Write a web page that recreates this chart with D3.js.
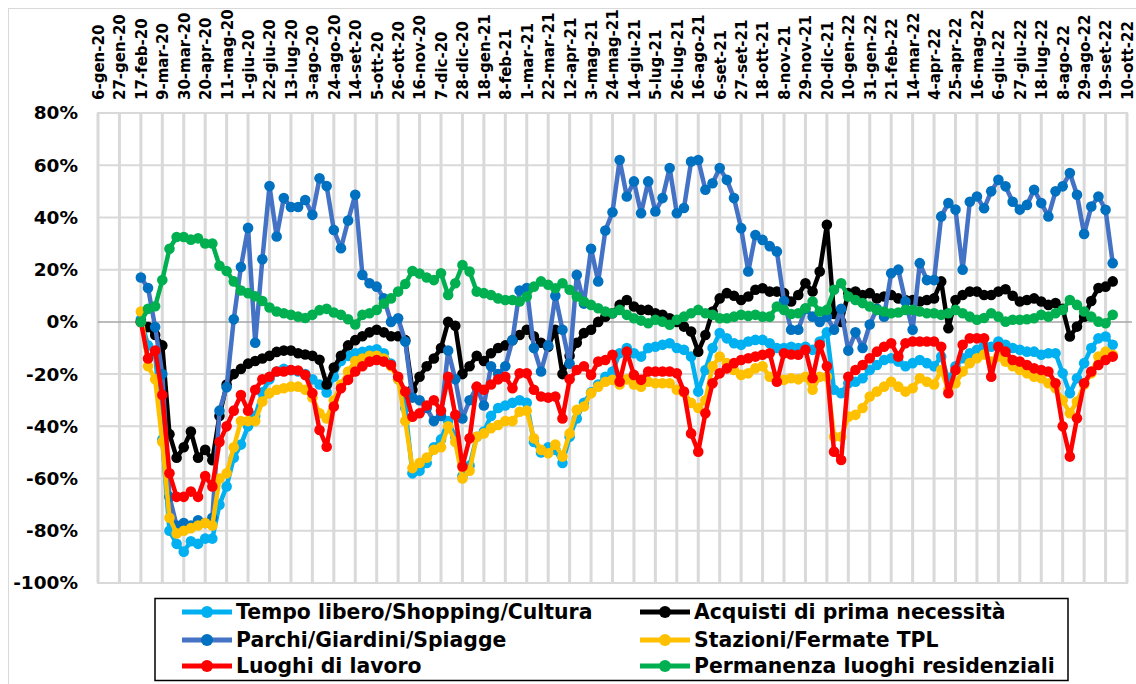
<!DOCTYPE html>
<html>
<head>
<meta charset="utf-8">
<script src="https://cdn.jsdelivr.net/npm/d3@7"></script>
<style>
  html, body { margin: 0; padding: 0; background: #fff; }
  svg { display: block; }
</style>
</head>
<body>
<svg id="chart" width="1136" height="684"></svg>
<script>
// Weekly mobility changes vs. baseline (%), one value per week starting Monday 17 Feb 2020
const firstWeek = "2020-02-17";

const tempoLibero = [
  1, -9, -12, -45, -80, -85, -88, -84, -85, -83,
  -83, -70, -63, -52, -47, -40, -36, -27, -22, -19,
  -18, -18.5, -19, -20, -22, -24, -27, -21, -15, -13,
  -12, -11.5, -11, -10.5, -12, -16, -22, -33, -58, -57,
  -54, -48, -45, -38, -44, -59, -55, -44, -42, -36,
  -33, -32, -31, -30, -31, -46, -50, -48, -49, -54,
  -44, -37, -31, -27, -24, -21, -19, -12, -10, -12,
  -13.3, -10, -9.5, -8.8, -8.2, -10, -10.7, -13.3, -26.7, -18.4,
  -10, -4.3, -6.3, -8.2, -8.8, -7.5, -6.9, -6.9, -8.2, -10,
  -10, -9.5, -10, -9.5, -10.7, -7.5, -4, -26, -27.3, -23.5,
  -22.9, -21.6, -18.4, -16.5, -14.6, -13.9, -15.2, -17, -15.8, -14.6,
  -15.8, -17, -13.3, -22, -17, -13.9, -12, -10.7, -9, -9.5,
  -7.5, -8.8, -10, -10.7, -11.4, -11.4, -12.6, -12, -12, -19.7,
  -27.3, -21.6, -15.8, -10, -6.3, -5.6, -8.8
];

const acquisti = [
  0, -2, -5, -9, -43, -52, -48, -42, -52, -49,
  -53, -36, -24, -20, -18, -16, -15, -14, -13, -11.5,
  -11, -11, -12, -12.5, -13, -14.5, -24, -17.5, -13, -9,
  -7, -5.5, -4, -3, -4, -5.5, -5.5, -7, -26, -21,
  -17, -14, -10, 0, -1.5, -20, -17, -13, -15, -12,
  -10, -9, -7, -5, -3, -5.5, -8, -9.5, -3, -20,
  -13, -8, -4.3, -3, 0, 2, 3.3, 6.5, 8.4, 5.9,
  4.6, 4.6, 3.3, 2.7, 1.4, 0, -1.8, -3.7, -11.4, -5,
  4, 9, 11, 10, 8.4, 9.7, 12.3, 12.9, 11.6, 11.6,
  11, 7.8, 10.3, 14.8, 11.6, 19.3, 37.2, 3, 0, 11,
  11.6, 10.3, 11, 9, 9.7, 10.3, 9, 8.4, 8.4, 7.8,
  8.4, 9, 15.5, -2.4, 8.4, 10.3, 11.6, 11.6, 10.3, 10.3,
  11.6, 12.5, 10, 7.8, 8.4, 9, 7.8, 6.5, 7.2, 5,
  -5.6, -1.8, 2, 8, 13, 13.5, 15.5
];

const parchi = [
  17, 13, -2, -20, -67, -78, -77, -78, -76, -77,
  -75, -34, -25, 1, 21, 36, -8, 24, 52, 32.7,
  47.4, 44, 44, 46.7, 41, 55, 52, 35.2, 28.2, 38.8,
  48.7, 18, 14.8, 13.5, 9, 0, 1.4, -7.5, -29, -30,
  -33, -38, -36, -11, -22, -37, -30, -25, -32, -17,
  -20, -17, -7, 12, 13, -10, -19, -9, 10, -3,
  -16, 18, 7, 28, 15.5, 35, 42, 62, 48, 53.8,
  41.6, 53.8, 42.3, 47.4, 58.9, 41.6, 43.6, 61.4, 62, 50.6,
  53.1, 58.9, 54.4, 47.4, 35.9, 19.3, 33.3, 31.4, 29, 27,
  8, -3, -3, 5, 2, 0, 2, -3, 5, -11,
  -4, -10, -1, 5, 2, 18.6, 20, 7.8, -3, 22.5,
  16, 16, 40.4, 45.5, 43, 20, 46, 48, 43.5, 50,
  54.4, 51.9, 46, 43, 44.8, 50.6, 45.5, 40.4, 50, 51.9,
  57, 48.7, 33.7, 44.2, 48, 42.9, 22.5
];

const stazioni = [
  4, -17, -22, -46, -75, -81, -80, -79, -78, -77,
  -78, -60, -58, -48, -38, -38, -38, -30.5, -27.3, -26,
  -25.4, -24.8, -24.8, -26, -29, -35, -37, -30, -24, -19,
  -15, -14, -13, -13, -14, -17, -22, -38, -56, -54,
  -52, -49, -48, -40, -46, -60, -57, -44, -42.7, -40.7,
  -39.5, -38, -38, -34.4, -34, -44.6, -49, -50.3, -47, -51.6,
  -42.7, -33.7, -32.4, -27.3, -24.8, -22.9, -22.2, -24, -22, -24,
  -24.8, -22.9, -23.5, -23.5, -23.5, -26, -27, -31, -33, -30,
  -17, -13.3, -15.8, -18.4, -20.3, -19.7, -17.8, -17, -21, -22,
  -22.2, -21.6, -22, -21, -26, -21, -21, -44, -44, -36.3,
  -35.6, -33, -28.6, -26.7, -24.8, -22.9, -24.8, -26.7, -25.4, -21.6,
  -22.9, -24, -18.4, -26, -23.5, -19, -15.8, -13.9, -12.5, -15.2,
  -13.3, -15.2, -17, -18.4, -19.7, -21, -21.6, -23.5, -25.4, -30,
  -35, -30.5, -24, -19.7, -13.3, -11.4, -12.6
];

const lavoro = [
  0, -14, -11, -28, -58, -67, -67, -65, -67, -59,
  -63, -46, -40, -34, -28, -34, -26, -22, -21, -19,
  -19, -18.4, -18.6, -20.3, -27.3, -41.4, -47.8, -32.4, -25.4, -22.2,
  -19, -17, -15.2, -14.6, -15.2, -16.5, -21, -26.7, -36.3, -35,
  -32, -30, -34, -21, -35.6, -55.4, -44.6, -24.8, -26, -24,
  -22, -21, -25.4, -19.7, -19.7, -26, -28.6, -29, -28.6, -37,
  -22, -18.4, -17, -20.3, -15.2, -14.6, -12.6, -22.9, -11.4, -20.3,
  -22.2, -19, -19, -19, -19, -19.7, -26.7, -42.7, -49.7, -35,
  -23.5, -19.7, -17.8, -15.8, -14.6, -13.9, -13.3, -12.6, -12, -22.9,
  -12, -12.5, -12.6, -10.7, -21.6, -8.8, -17, -49.7, -52.9, -21,
  -18.4, -16.5, -13.9, -11.4, -9.5, -8.2, -13.3, -8.2, -7.5, -7.5,
  -7.5, -7.5, -9.5, -27.3, -18.4, -8.8, -6.3, -6.3, -6.3, -21,
  -9.5, -11.4, -14.6, -15.2, -16.5, -17.8, -18.4, -19, -23.5, -40,
  -51.6, -36.9, -23.5, -19, -16.5, -14.6, -13.3
];

const residenziali = [
  0, 5, 6, 16, 28, 32.5, 32.5, 31.5, 32, 30,
  30, 21.5, 19.5, 15.5, 12, 11, 9.8, 8, 5.5, 4,
  3.3, 2.7, 2, 1.5, 2.7, 4.5, 5, 3.6, 2.7, 1,
  -1, 2.7, 3.3, 4.6, 7, 9, 11.6, 14.5, 19.5, 18.5,
  17, 16, 18.6, 10.3, 14.8, 21.8, 19.3, 11.6, 11, 10.3,
  9, 8.4, 8.4, 7.8, 9.7, 13.5, 15.5, 14.2, 12.9, 14.8,
  12.3, 9.7, 7.8, 6.5, 5.2, 4, 3.3, 4.6, 2.7, 1.4,
  0.5, -0.5, 0.8, 0.1, -1.1, 0.8, 2, 3.3, 4.6, 3.3,
  2.7, 1.4, 1.4, 2, 2.7, 2.3, 2.7, 2, 2, 5.9,
  4.6, 3, 3.3, 5.2, 7.8, 4, 4.6, 12.3, 14.8, 9.7,
  8.4, 7.2, 5.9, 4.6, 4, 3.3, 3.6, 4.6, 4.6, 4,
  3.3, 3.3, 2.7, 3.3, 4.6, 3.3, 2, 0.8, 1.5, 3.3,
  2, 0.1, 0.8, 0.8, 1, 1.4, 2.7, 2, 3.3, 4.6,
  8.4, 6.5, 4, 2, 0.1, -0.5, 2.7
];

// Date axis labels, one every three weeks from 6 Jan 2020
const axisStart = "2020-01-06";
const xTickLabels = [
  "6-gen-20", "27-gen-20", "17-feb-20", "9-mar-20", "30-mar-20", "20-apr-20", "11-mag-20",
  "1-giu-20", "22-giu-20", "13-lug-20", "3-ago-20", "24-ago-20", "14-set-20", "5-ott-20",
  "26-ott-20", "16-nov-20", "7-dic-20", "28-dic-20", "18-gen-21", "8-feb-21", "1-mar-21",
  "22-mar-21", "12-apr-21", "3-mag-21", "24-mag-21", "14-giu-21", "5-lug-21", "26-lug-21",
  "16-ago-21", "6-set-21", "27-set-21", "18-ott-21", "8-nov-21", "29-nov-21", "20-dic-21",
  "10-gen-22", "31-gen-22", "21-feb-22", "14-mar-22", "4-apr-22", "25-apr-22", "16-mag-22",
  "6-giu-22", "27-giu-22", "18-lug-22", "8-ago-22", "29-ago-22", "19-set-22", "10-ott-22"
];
const yTicks = [80, 60, 40, 20, 0, -20, -40, -60, -80, -100];

const seriesNames = [
  "Tempo libero/Shopping/Cultura", "Acquisti di prima necessità", "Parchi/Giardini/Spiagge",
  "Stazioni/Fermate TPL", "Luoghi di lavoro", "Permanenza luoghi residenziali"
];

// ---- drawing ----
const FONT = "'DejaVu Sans', Verdana, sans-serif";
const parseDay = d3.utcParse("%Y-%m-%d");
const t0 = parseDay(axisStart);
const tickDates = xTickLabels.map((_, k) => d3.utcDay.offset(t0, 21 * k));
const w0 = parseDay(firstWeek);
const weekDates = tempoLibero.map((_, i) => d3.utcDay.offset(w0, 7 * i));

const series = [
  { name: seriesNames[0], values: tempoLibero, line: "#00B0F0", dot: "#00B0F0" },
  { name: seriesNames[1], values: acquisti, line: "#000000", dot: "#000000" },
  { name: seriesNames[2], values: parchi, line: "#4472C4", dot: "#0070C0" },
  { name: seriesNames[3], values: stazioni, line: "#FFC000", dot: "#FFC000" },
  { name: seriesNames[4], values: lavoro, line: "#FF0000", dot: "#FF0000" },
  { name: seriesNames[5], values: residenziali, line: "#00B050", dot: "#00B050" }
];

const plot = { left: 98, right: 1127, top: 113, bottom: 583 };
const x = d3.scaleUtc()
  .domain([tickDates[0], tickDates[tickDates.length - 1]])
  .range([plot.left, plot.right]);
const y = d3.scaleLinear().domain([-100, 80]).range([plot.bottom, plot.top]);

const svg = d3.select("#chart");
svg.append("rect").attr("width", 1136).attr("height", 684).attr("fill", "#fff");
// chart area frame
svg.append("rect")
  .attr("x", 8.5).attr("y", 8.5).attr("width", 1140).attr("height", 700)
  .attr("fill", "none").attr("stroke", "#D9D9D9").attr("stroke-width", 1);

const grid = svg.append("g");
// horizontal gridlines
grid.selectAll("line.h").data(yTicks.filter(v => v !== 0)).join("line")
  .attr("x1", plot.left).attr("x2", plot.right)
  .attr("y1", d => y(d)).attr("y2", d => y(d))
  .attr("stroke", "#D9D9D9").attr("stroke-width", 2);
// vertical gridlines
grid.selectAll("line.v").data(tickDates).join("line")
  .attr("x1", d => x(d)).attr("x2", d => x(d))
  .attr("y1", plot.top).attr("y2", plot.bottom)
  .attr("stroke", "#D9D9D9").attr("stroke-width", 3);
// plot frame
grid.append("rect")
  .attr("x", plot.left).attr("y", plot.top)
  .attr("width", plot.right - plot.left).attr("height", plot.bottom - plot.top)
  .attr("fill", "none").attr("stroke", "#D9D9D9").attr("stroke-width", 2);
// zero axis line
grid.append("line")
  .attr("x1", plot.left).attr("x2", plot.right + 5)
  .attr("y1", y(0)).attr("y2", y(0))
  .attr("stroke", "#A6A6A6").attr("stroke-width", 1.5);

// y axis labels
const yAxis = d3.axisLeft(y).tickValues(yTicks).tickFormat(d => d + "%").tickSize(0).tickPadding(0);
const gy = svg.append("g").attr("transform", "translate(78,0)").call(yAxis);
gy.select(".domain").remove();
gy.selectAll("text")
  .attr("font-family", FONT)
  .attr("font-weight", "bold").attr("font-size", 18.5).attr("fill", "#000");

// x axis labels (rotated, above the plot)
const xAxis = d3.axisTop(x).tickValues(tickDates).tickFormat((d, k) => xTickLabels[k]).tickSize(0);
const gx = svg.append("g").attr("transform", "translate(0,100)").call(xAxis);
gx.select(".domain").remove();
gx.selectAll("text")
  .attr("font-family", FONT)
  .attr("font-weight", "bold").attr("font-size", 15).attr("fill", "#000")
  .attr("transform", "rotate(-90)")
  .attr("text-anchor", "start")
  .attr("x", 0).attr("y", 0).attr("dy", "0.36em");

// series
const lineGen = d3.line()
  .x((d, i) => x(weekDates[i]))
  .y(d => y(d));

series.forEach(s => {
  const g = svg.append("g");
  g.append("path")
    .datum(s.values)
    .attr("d", lineGen)
    .attr("fill", "none")
    .attr("stroke", s.line)
    .attr("stroke-width", 4.5)
    .attr("stroke-linejoin", "round");
  g.selectAll("circle").data(s.values).join("circle")
    .attr("cx", (d, i) => x(weekDates[i]))
    .attr("cy", d => y(d))
    .attr("r", 5.3)
    .attr("fill", s.dot);
});

// legend
const legend = svg.append("g");
legend.append("rect")
  .attr("x", 155).attr("y", 598.5).attr("width", 913).attr("height", 82)
  .attr("fill", "#fff").attr("stroke", "#000").attr("stroke-width", 1.5);
const legendCols = [182, 640];
const legendRows = [612, 640, 666];
series.forEach((s, k) => {
  const cx = legendCols[k % 2];
  const cy = legendRows[Math.floor(k / 2)];
  legend.append("line")
    .attr("x1", cx).attr("x2", cx + 50).attr("y1", cy).attr("y2", cy)
    .attr("stroke", s.line).attr("stroke-width", 5);
  legend.append("circle").attr("cx", cx + 25).attr("cy", cy).attr("r", 6).attr("fill", s.dot);
  legend.append("text")
    .attr("x", cx + 54).attr("y", cy).attr("dy", "0.36em")
    .attr("font-family", FONT)
    .attr("font-weight", "bold").attr("font-size", 20.4)
    .text(s.name);
});
</script>
</body>
</html>
